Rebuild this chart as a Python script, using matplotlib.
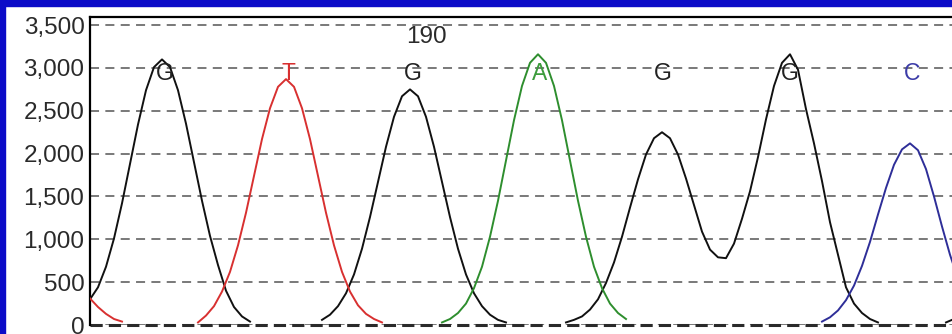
import matplotlib
matplotlib.use("Agg")
import matplotlib.pyplot as plt
import numpy as np
from matplotlib.patches import Rectangle

# === ДАННЫЕ ХРОМАТОГРАММЫ ===
# каждая дорожка: список сегментов (начальный скан, интенсивности через каждые 2 скана)
SCAN_STEP = 2

TRACE_G = [
    (0, [300, 440, 680, 1010, 1420, 1880, 2340, 2740, 3010, 3100, 3010, 2740, 2350,
         1900, 1450, 1040, 700, 400, 210, 100, 40]),
    (58, [60, 120, 220, 370, 590, 890, 1260, 1670, 2080, 2430, 2670, 2750, 2670,
          2430, 2080, 1670, 1260, 890, 590, 370, 220, 120, 60, 30]),
    (119, [30, 60, 100, 180, 300, 490, 730, 1030, 1370, 1700, 1990, 2180, 2250,
           2180, 1990, 1710, 1400, 1090, 880, 790, 780, 950, 1240, 1560, 1960,
           2400, 2790, 3060, 3160, 2980, 2520, 2120, 1680, 1200, 820, 440, 250,
           140, 70, 30]),
    (214, [30, 70]),
]
TRACE_T = [
    (0, [310, 210, 130, 70, 40]),
    (27, [30, 110, 220, 390, 620, 930, 1310, 1740, 2170, 2530, 2780, 2870, 2780,
          2530, 2170, 1740, 1310, 930, 620, 390, 230, 130, 70, 30]),
]
TRACE_A = [
    (88, [30, 70, 140, 250, 430, 680, 1030, 1450, 1920, 2390, 2790, 3060, 3160,
          3060, 2790, 2390, 1920, 1450, 1030, 680, 430, 250, 140, 70]),
]
TRACE_C = [
    (183, [40, 90, 170, 290, 460, 690, 970, 1290, 1600, 1870, 2050, 2120, 2040,
           1820, 1500, 1150, 820, 540]),
]

# базы и их позиции (в сканах)
BASES = ["G", "T", "G", "A", "G", "G", "C"]
BASE_SCANS = [18.75, 49.5, 80.75, 112.5, 143.25, 175, 205.5]
BASE_LEVEL = 2940
POS_LABEL = "190"
POS_LABEL_SCAN = 84
POS_LABEL_LEVEL = 3360

Y_TICKS = [0, 500, 1000, 1500, 2000, 2500, 3000, 3500]

# === ОФОРМЛЕНИЕ ===
COLORS = {"G": "#111111", "T": "#d83030", "A": "#2e8e2e", "C": "#2e2e98"}
LABEL_COLORS = {"G": "#222222", "T": "#d83030", "A": "#3c9c3c", "C": "#3c3ca8"}
BORDER_BLUE = "#0b0bc8"

plt.rcParams["font.family"] = ["Liberation Sans", "DejaVu Sans"]

W, H = 953, 334
fig = plt.figure(figsize=(W / 100, H / 100), dpi=100)
fig.patch.set_facecolor("white")

# синяя рамка окна слева и сверху
fig.patches.append(Rectangle((0, 0), 5 / W, 1, transform=fig.transFigure,
                             color=BORDER_BLUE, zorder=0))
fig.patches.append(Rectangle((0, 1 - 6 / H), 1, 6 / H, transform=fig.transFigure,
                             color=BORDER_BLUE, zorder=0))

ax = fig.add_axes([90 / W, 9 / H, 1 - 90 / W, 308 / H])
ax.set_xlim(0, 215.75)
ax.set_ylim(0, 3595)

for base, segments in [("G", TRACE_G), ("T", TRACE_T), ("A", TRACE_A), ("C", TRACE_C)]:
    for start, values in segments:
        x = start + SCAN_STEP * np.arange(len(values))
        ax.plot(x, values, color=COLORS[base], lw=1.4, zorder=3)

for base, scan in zip(BASES, BASE_SCANS):
    ax.text(scan, BASE_LEVEL, base, color=LABEL_COLORS[base], fontsize=16.5,
            ha="center", va="center", zorder=4)
ax.text(POS_LABEL_SCAN, POS_LABEL_LEVEL, POS_LABEL, color="#2a2a2a", fontsize=17.5,
        ha="center", va="center", zorder=4)

ax.set_yticks(Y_TICKS)
ax.set_yticklabels([f"{v:,}" for v in Y_TICKS])
ax.set_xticks([])
ax.tick_params(axis="y", length=0, pad=4, labelsize=17.5, labelcolor="#2a2a2a")

ax.grid(axis="y", color="#6e6e6e", linestyle=(0, (5, 3.5)), lw=1.3, zorder=1)
ax.axhline(0, color="#2a2a2a", linestyle=(0, (4, 2)), lw=2.2, clip_on=False, zorder=2)

for side in ["right", "bottom"]:
    ax.spines[side].set_visible(False)
for side in ["left", "top"]:
    ax.spines[side].set_color("black")
    ax.spines[side].set_linewidth(1.6)

fig.savefig("out.png", dpi=100)
